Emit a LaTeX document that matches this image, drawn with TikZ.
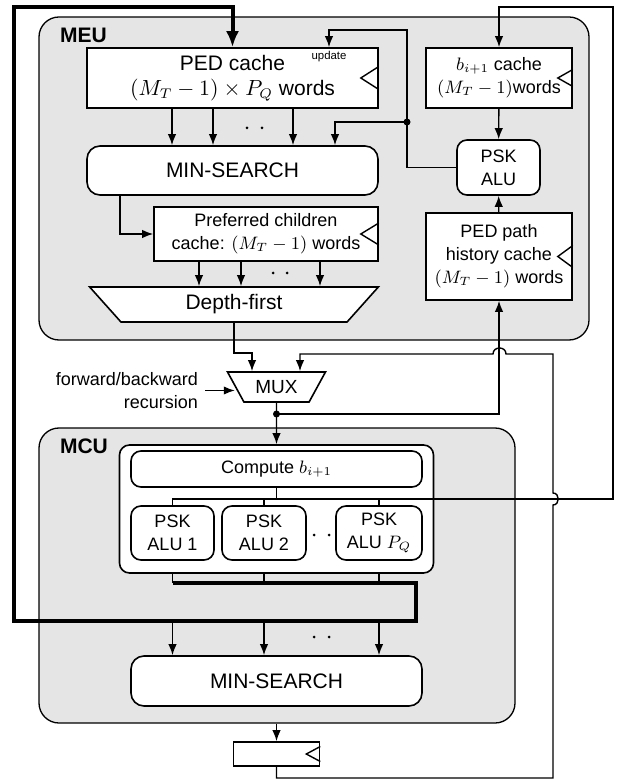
\documentclass[tikz,border=0pt]{standalone}
\usepackage[no-math]{fontspec}
\setmainfont{Liberation Sans}
\usetikzlibrary{arrows.meta,shapes.geometric}
\definecolor{unitgray}{RGB}{229,229,229}
\newcommand{\bigfont}{\fontsize{10.5}{12.5}\selectfont}
\newcommand{\smallfont}{\fontsize{9}{11.5}\selectfont}
\newcommand{\clockmark}[3]{\draw[line] (#1.east) ++(0,-#3) -- ++(-#2,#3) -- ++(#2,#3);}
\begin{document}
\begin{tikzpicture}[x=0.5pt,y=-0.5pt,
    line/.style={line width=0.7pt},
    arr/.style={line, -{Latex[length=5.5pt,width=4.2pt]}},
    bus/.style={line width=2pt, -{Latex[length=8pt,width=6.5pt]}},
    unit/.style={draw, fill=unitgray, line width=0.65pt, rounded corners=10pt, inner sep=0pt},
    box/.style={draw, fill=white, line width=0.8pt, inner sep=0pt, align=center, font=\smallfont},
    rbox/.style={box, rounded corners=5pt},
    trap/.style={box, trapezium, shape border rotate=180, trapezium stretches=true},
    dot/.style={circle, fill, inner sep=0pt, minimum size=3.5pt}]
  \useasboundingbox (0,0) rectangle (616,779);
  % units
  \node[unit, minimum width=275pt, minimum height=161.5pt] (meu) at (314,178.5) {};
  \node[font=\bfseries\bigfont, anchor=base west] (meulabel) at (53,43) {MEU};
  \node[unit, minimum width=238pt, minimum height=147.5pt] (mcu) at (277,575.5) {};
  \node[font=\bfseries\bigfont, anchor=base west] (mculabel) at (53,453) {MCU};
  % MEU blocks
  \node[box, font=\bigfont, minimum width=145.5pt, minimum height=30pt] (pedc) at (232.5,78) {PED cache\\$(M_T-1)\times P_Q$ words};
  \node[box, minimum width=73pt, minimum height=30pt] (bcache) at (499,78) {$b_{i+1}$ cache\\$(M_T-1)$words};
  \node[rbox, font=\bigfont, rounded corners=6.5pt, minimum width=145.5pt, minimum height=24.5pt] (minsA) at (232.5,170.5) {MIN-SEARCH};
  \node[rbox, minimum width=41.5pt, minimum height=27.5pt] (pskA) at (498.5,167.5) {PSK\\ALU};
  \node[box, minimum width=112pt, minimum height=27pt] (pref) at (266,234) {Preferred children\\cache: $(M_T-1)$ words};
  \node[box, minimum width=73pt, minimum height=43.5pt] (pph) at (499,256.5) {PED path\\history cache\\$(M_T-1)$ words};
  \node[trap, font=\bigfont, trapezium angle=55.6, minimum width=145pt, minimum height=17.5pt] (dfs) at (234,304.5) {Depth-first};
  \clockmark{pedc}{18}{11.5}
  \clockmark{bcache}{15}{8.5}
  \clockmark{pref}{18}{11}
  \clockmark{pph}{15}{11}
  \node[font=\fontsize{5.7}{6}\selectfont] (upd) at (329,57) {update};
  % MUX
  \node[trap, font=\fontsize{9.5}{11}\selectfont, trapezium angle=51.3, minimum width=49pt, minimum height=15pt] (mux) at (276.5,387) {MUX};
  \node[anchor=east, align=right, font=\smallfont] (fb) at (205,390.5) {forward/backward\\recursion};
  % MCU blocks
  \node[rbox, minimum width=157pt, minimum height=64pt] (calc) at (276.5,509) {};
  \node[rbox, minimum width=145.5pt, minimum height=18pt] (comp) at (276.5,469) {Compute $b_{i+1}$};
  \node[rbox, minimum width=41.5pt, minimum height=27pt] (alu1) at (172.5,533) {PSK\\ALU 1};
  \node[rbox, minimum width=42pt, minimum height=27pt] (alu2) at (264,533) {PSK\\ALU 2};
  \node[rbox, minimum width=43pt, minimum height=27pt] (aluP) at (379,533) {PSK\\ALU $P_Q$};
  \node[rbox, font=\bigfont, rounded corners=6.5pt, minimum width=145.5pt, minimum height=25pt] (minsB) at (276.5,681) {MIN-SEARCH};
  \node[box, minimum width=43pt, minimum height=12pt] (reg) at (276.5,754) {};
  \clockmark{reg}{14}{7.5}
  % helper points
  \coordinate (j1) at (407,122);
  \coordinate (up) at (329,30);
  \coordinate (b1) at (335,0);
  \coordinate (m1) at (120,0);
  \coordinate (mx1) at (252,353);
  \coordinate (mx2) at (300,0);
  \coordinate (j2) at (276.5,414);
  \coordinate (bs) at (0,499);
  \coordinate (bR) at (613,499);
  \coordinate (tR) at (613,7);
  \coordinate (k1) at (416,583);
  \coordinate (k2) at (14,621);
  \coordinate (k3) at (14,7);
  \coordinate (fbk) at (553,778);
  % MEU connections
  \foreach \x [count=\i] in {172,213,293} {
    \coordinate (pc\i) at (\x,0);
    \draw[arr] (pedc.south -| pc\i) -- (minsA.north -| pc\i);
  }
  \fill (247,128) circle (1.5) (262,128) circle (1.5);
  \draw[arr] (pskA.west) -| (up -| j1) -- (up) -- (pedc.north -| up);
  \draw[arr] (j1) -| (minsA.north -| b1);
  \node[dot] at (j1) {};
  \draw[arr] (bcache) -- (pskA);
  \draw[arr] (pph) -- (pskA);
  \draw[arr] (minsA.south -| m1) |- (pref.west);
  \foreach \x [count=\i] in {199,241,320} {
    \coordinate (pf\i) at (\x,0);
    \draw[arr] (pref.south -| pf\i) -- (dfs.north -| pf\i);
  }
  \fill (273,273) circle (1.5) (287,273) circle (1.5);
  % MUX connections
  \draw[arr] (dfs.south) |- (mx1) -- (mux.north -| mx1);
  \draw[arr] (fb.east) -- (fb.east -| mux.west);
  \draw[arr] (mux.south) -- (calc.north);
  \node[dot] at (j2) {};
  \draw[arr] (j2) -| (pph.south);
  \draw[arr] (reg.south) |- (fbk) -- (553,505) .. controls (560,505) and (560,493) .. (553,493)
    -- (553,354) -- (506,354) .. controls (506,346) and (493,346) .. (493,354) -| (mux.north -| mx2);
  % MCU connections
  \draw[line] (comp.south) -- (comp.south |- bs);
  \draw[line] (alu2.north) -- (alu2.north |- bs);
  \draw[line] (aluP.north) -- (aluP.north |- bs);
  \draw[arr] (alu1.north) |- (bR) -- (tR) -| (bcache.north);
  \fill (314,535) circle (1.5) (329,535) circle (1.5);
  \foreach \n in {alu1,alu2,aluP} {
    \draw[line] (calc.south -| \n) -- (\n |- k1);
    \draw[arr] (\n |- k2) -- (\n |- minsB.north);
  }
  \fill (314,637) circle (1.5) (329,637) circle (1.5);
  \draw[bus] (alu1 |- k1) -- (k1) |- (k2) -- (k3) -| (pedc.north);
  \draw[arr] (reg |- mcu.south) -- (reg.north);
\end{tikzpicture}
\end{document}
